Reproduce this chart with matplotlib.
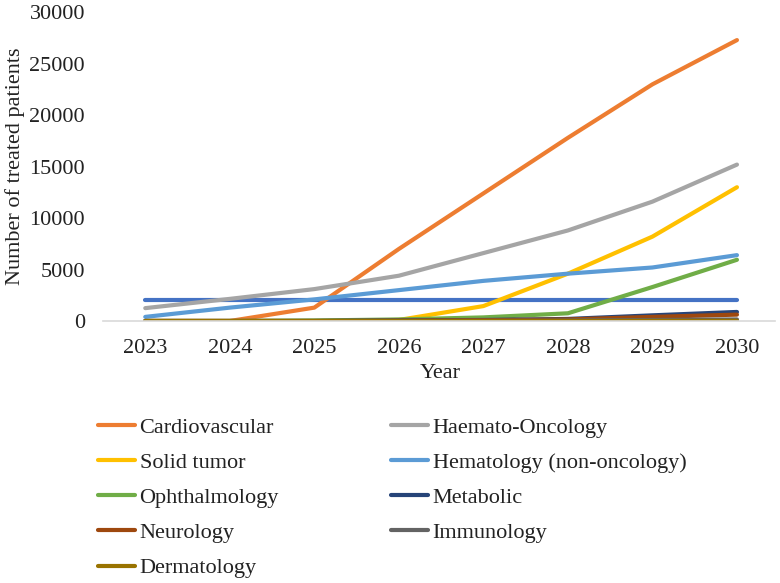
import matplotlib.pyplot as plt

plt.rcParams['font.family'] = ['Liberation Serif', 'DejaVu Serif']

years = [2023, 2024, 2025, 2026, 2027, 2028, 2029, 2030]

## first series is in the plot but not in the legend
unlabeled = [2000, 2000, 2000, 2000, 2000, 2000, 2000, 2000]
cardiovascular = [0, 0, 1300, 7000, 12400, 17800, 23000, 27300]
haemato_onc = [1250, 2150, 3100, 4400, 6600, 8800, 11600, 15200]
solid_tumor = [0, 0, 0, 100, 1450, 4600, 8200, 13000]
hematology = [400, 1300, 2100, 3000, 3900, 4600, 5200, 6400]
ophthalmology = [0, 0, 50, 150, 350, 750, 3300, 5950]
metabolic = [0, 0, 0, 50, 100, 200, 550, 880]
neurology = [0, 0, 0, 30, 80, 150, 400, 620]
immunology = [0, 0, 0, 0, 20, 50, 100, 150]
dermatology = [0, 0, 0, 0, 0, 0, 10, 20]

series = [
    ('Cardiovascular', cardiovascular, '#ED7D31'),
    ('Haemato-Oncology', haemato_onc, '#A5A5A5'),
    ('Solid tumor', solid_tumor, '#FFC000'),
    ('Hematology (non-oncology)', hematology, '#5B9BD5'),
    ('Ophthalmology', ophthalmology, '#70AD47'),
    ('Metabolic', metabolic, '#264478'),
    ('Neurology', neurology, '#9E480E'),
    ('Immunology', immunology, '#636363'),
    ('Dermatology', dermatology, '#997300'),
]

fig = plt.figure(figsize=(7.8, 5.83), dpi=100)
ax = fig.add_axes([103 / 780, 1 - 321 / 583, 672 / 780, 308.7 / 583])

ax.plot(years, unlabeled, color='#4472C4', lw=3, solid_capstyle='round')
handles = {}
for name, vals, col in series:
    ln, = ax.plot(years, vals, color=col, lw=3, solid_capstyle='round')
    handles[name] = ln

ax.set_xlim(2022.5, 2030.45)
ax.set_ylim(0, 30000)
ax.set_xticks(years)
ax.set_yticks(range(0, 30001, 5000))
ax.tick_params(length=0, labelsize=16, colors='#222222')
ax.tick_params(axis='x', pad=13)
ax.tick_params(axis='y', pad=13)
for s in ['top', 'right', 'left']:
    ax.spines[s].set_visible(False)
ax.spines['bottom'].set_color('#D9D9D9')
ax.spines['bottom'].set_linewidth(1.2)

fig.text(15 / 780, 1 - 166 / 583, 'Number of treated patients', rotation=90,
         ha='center', va='center', fontsize=16, color='#222222')
fig.text(440 / 780, 1 - 374 / 583, 'Year', ha='center', va='center',
         fontsize=16, color='#222222')

## legend in two columns, row by row like excel does it
left_col = ['Cardiovascular', 'Solid tumor', 'Ophthalmology', 'Neurology', 'Dermatology']
right_col = ['Haemato-Oncology', 'Hematology (non-oncology)', 'Metabolic', 'Immunology']
for names, x0 in [(left_col, 98), (right_col, 391)]:
    fig.legend([handles[n] for n in names], names, loc='upper left',
               bbox_to_anchor=(x0 / 780, 1 - 417 / 583), frameon=False,
               fontsize=16, handlelength=1.67, handletextpad=0.2,
               labelspacing=0.66, borderpad=0, borderaxespad=0,
               labelcolor='#222222')

fig.savefig('out.png', dpi=100)
